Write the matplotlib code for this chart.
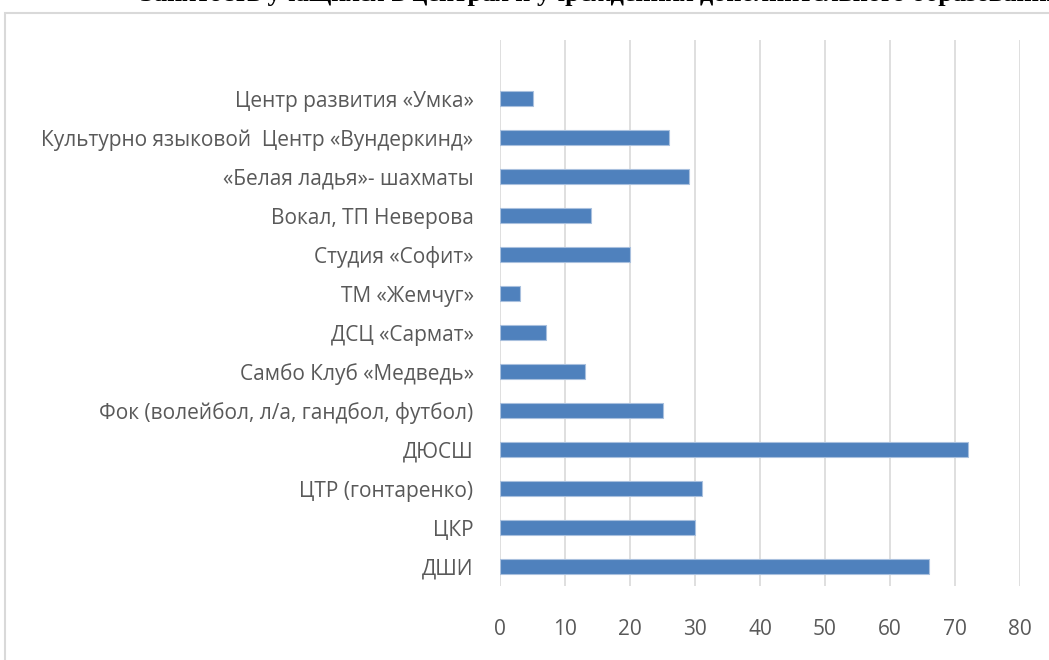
import matplotlib.pyplot as plt
from matplotlib.patches import Rectangle
import numpy as np

# Dados (de baixo para cima, como no Excel)
categorias = [
    "ДШИ",
    "ЦКР",
    "ЦТР (гонтаренко)",
    "ДЮСШ",
    "Фок (волейбол, л/а, гандбол, футбол)",
    "Самбо Клуб «Медведь»",
    "ДСЦ «Сармат»",
    "ТМ «Жемчуг»",
    "Студия «Софит»",
    "Вокал, ТП Неверова",
    "«Белая ладья»- шахматы",
    "Культурно языковой  Центр «Вундеркинд»",
    "Центр развития «Умка»",
]
valores = [66, 30, 31, 72, 25, 13, 7, 3, 20, 14, 29, 26, 5]
ticks_x = [0, 10, 20, 30, 40, 50, 60, 70, 80]

titulo = "Занятость учащихся в центрах и учреждениях дополнительного образования"

plt.rcParams['font.family'] = ['Open Sans', 'DejaVu Sans']

fig = plt.figure(figsize=(10.49, 6.6), dpi=100)

# moldura cinza do grafico
fig.patches.append(Rectangle((5 / 1049, -0.1), 1.2, 1 - 13 / 660 + 0.1,
                             transform=fig.transFigure, fill=False,
                             edgecolor='#D9D9D9', linewidth=1.5))

# titulo cortado no topo (so a parte de baixo aparece)
fig.text(140 / 1049, 1 - 1 / 660, titulo, family='Liberation Serif',
         fontweight='bold', fontsize=19, va='baseline', ha='left', color='black')

ax = fig.add_axes([500 / 1049, 1 - 586 / 660, 520 / 1049, 546 / 660])

pos = np.arange(len(categorias))
ax.barh(pos, valores, height=0.36, color='#4F81BD', edgecolor='#A9C0DE',
        linewidth=0.8, zorder=3)

ax.set_xlim(0, 80)
ax.set_ylim(-0.5, len(categorias) + 0.5)
ax.set_xticks(ticks_x)
ax.set_yticks(pos)
ax.set_yticklabels(categorias)

ax.grid(True, axis='x', color='#D9D9D9', linewidth=1.2, zorder=0)
ax.grid(False, axis='y')
for s in ax.spines.values():
    s.set_visible(False)

ax.tick_params(axis='both', length=0, labelsize=15, colors='#595959')
ax.tick_params(axis='x', pad=24)
ax.tick_params(axis='y', pad=19)

plt.savefig("out.png", dpi=100)
